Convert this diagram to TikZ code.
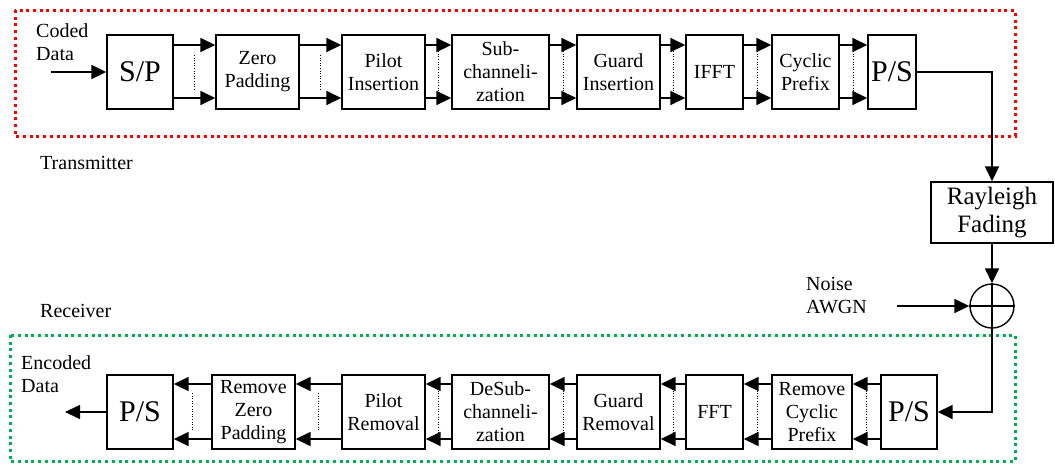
\documentclass[tikz,border=0pt]{standalone}
\usepackage{fontspec}
\setmainfont{Liberation Serif}
\usetikzlibrary{arrows.meta,calc}
\begin{document}
\begin{tikzpicture}[x=1pt,y=-1pt,
  blk/.style={draw,line width=1.4pt,align=center,inner sep=0pt,minimum height=74pt,font=\fontsize{20}{23}\selectfont},
  big/.style={font=\fontsize{30}{32}\selectfont},
  lbl/.style={align=left,inner sep=0pt,anchor=west,font=\fontsize{20}{23}\selectfont},
  arr/.style={line width=1.6pt,-{Triangle[length=15pt,width=14pt]}},
  dotl/.style={line width=1pt,dash pattern=on 1pt off 1.6pt},
  frame/.style={line width=3pt,dash pattern=on 3pt off 3.7pt}]
\useasboundingbox (0,0) rectangle (1055,464);
\definecolor{rfr}{RGB}{255,0,0}
\definecolor{gfr}{RGB}{0,176,80}
% frames
\draw[frame,rfr] (15,10) rectangle (1015,136);
\draw[frame,gfr] (10,335) rectangle (1015,461);
% labels
\node[lbl] (coded) at (36,42) {Coded\\Data};
\node[lbl] (tx) at (40,163) {Transmitter};
\node[lbl] (rx) at (40,311) {Receiver};
\node[lbl] (enc) at (21,374) {Encoded\\Data};
\node[lbl] (noise) at (806,296) {Noise\\AWGN};
% transmitter blocks
\node[blk,big,minimum width=66pt] (t1) at (140,72) {S/P};
\node[blk,minimum width=83pt] (t2) at (257.5,72) {Zero\\Padding};
\node[blk,minimum width=83pt] (t3) at (383.5,72) {Pilot\\Insertion};
\node[blk,minimum width=97pt] (t4) at (500.5,72) {Sub-\\channeli-\\zation};
\node[blk,minimum width=83pt] (t5) at (618.5,72) {Guard\\Insertion};
\node[blk,minimum width=57pt] (t6) at (714.5,72) {IFFT};
\node[blk,minimum width=67pt] (t7) at (805.5,72) {Cyclic\\Prefix};
\node[blk,big,minimum width=48pt] (t8) at (892,72) {P/S};
% channel
\node[blk,minimum width=122pt,minimum height=61pt,font=\fontsize{25}{28}\selectfont] (ray) at (992,212.5) {Rayleigh\\Fading};
\node[draw,circle,line width=1.4pt,minimum size=44pt,inner sep=0pt] (sum) at (992,306) {};
\draw[line width=1.4pt] (sum.north) -- (sum.south) (sum.west) -- (sum.east);
% receiver blocks
\node[blk,big,minimum width=66pt] (r1) at (140,412) {P/S};
\node[blk,minimum width=83pt] (r2) at (253.5,412) {Remove\\Zero\\Padding};
\node[blk,minimum width=83pt] (r3) at (383.5,412) {Pilot\\Removal};
\node[blk,minimum width=97pt] (r4) at (500.5,412) {DeSub-\\channeli-\\zation};
\node[blk,minimum width=83pt] (r5) at (618.5,412) {Guard\\Removal};
\node[blk,minimum width=57pt] (r6) at (714.5,412) {FFT};
\node[blk,minimum width=80pt] (r7) at (812,412) {Remove\\Cyclic\\Prefix};
\node[blk,big,minimum width=56pt] (r8) at (909,412) {P/S};
% free ends
\coordinate (in) at (51,72);
\coordinate (out) at (65,412);
\coordinate (nz) at (897,306);
% transmitter connectors
\draw[arr] (in) -- (t1.west);
\foreach \a/\b in {t1/t2,t2/t3,t3/t4,t4/t5,t5/t6,t6/t7,t7/t8}{
  \draw[arr] ([yshift=27pt]\a.east) -- ([yshift=27pt]\b.west);
  \draw[arr] ([yshift=-26pt]\a.east) -- ([yshift=-26pt]\b.west);
}
\foreach \a/\b/\h in {t1/t2/17,t2/t3/17,t3/t4/26,t4/t5/26,t5/t6/26,t6/t7/26,t7/t8/26}{
  \draw[dotl] ($(\a.east)!0.5!(\b.west)+(0,-\h)$) -- ($(\a.east)!0.5!(\b.west)+(0,\h)$);
}
\draw[arr] (t8.east) -| (ray.north);
\draw[arr] (ray.south) -- (sum.north);
\draw[arr] (nz) -- (sum.west);
\draw[arr] (sum.south) |- (r8.east);
% receiver connectors
\foreach \a/\b in {r8/r7,r7/r6,r6/r5,r5/r4,r4/r3,r3/r2,r2/r1}{
  \draw[arr] ([yshift=28pt]\a.west) -- ([yshift=28pt]\b.east);
  \draw[arr] ([yshift=-27pt]\a.west) -- ([yshift=-27pt]\b.east);
}
\foreach \a/\b/\h in {r8/r7/24,r7/r6/24,r6/r5/24,r5/r4/24,r4/r3/24,r3/r2/19,r2/r1/19}{
  \draw[dotl] ($(\a.west)!0.5!(\b.east)+(0,-\h)$) -- ($(\a.west)!0.5!(\b.east)+(0,\h)$);
}
\draw[arr] (r1.west) -- (out);
\end{tikzpicture}
\end{document}
